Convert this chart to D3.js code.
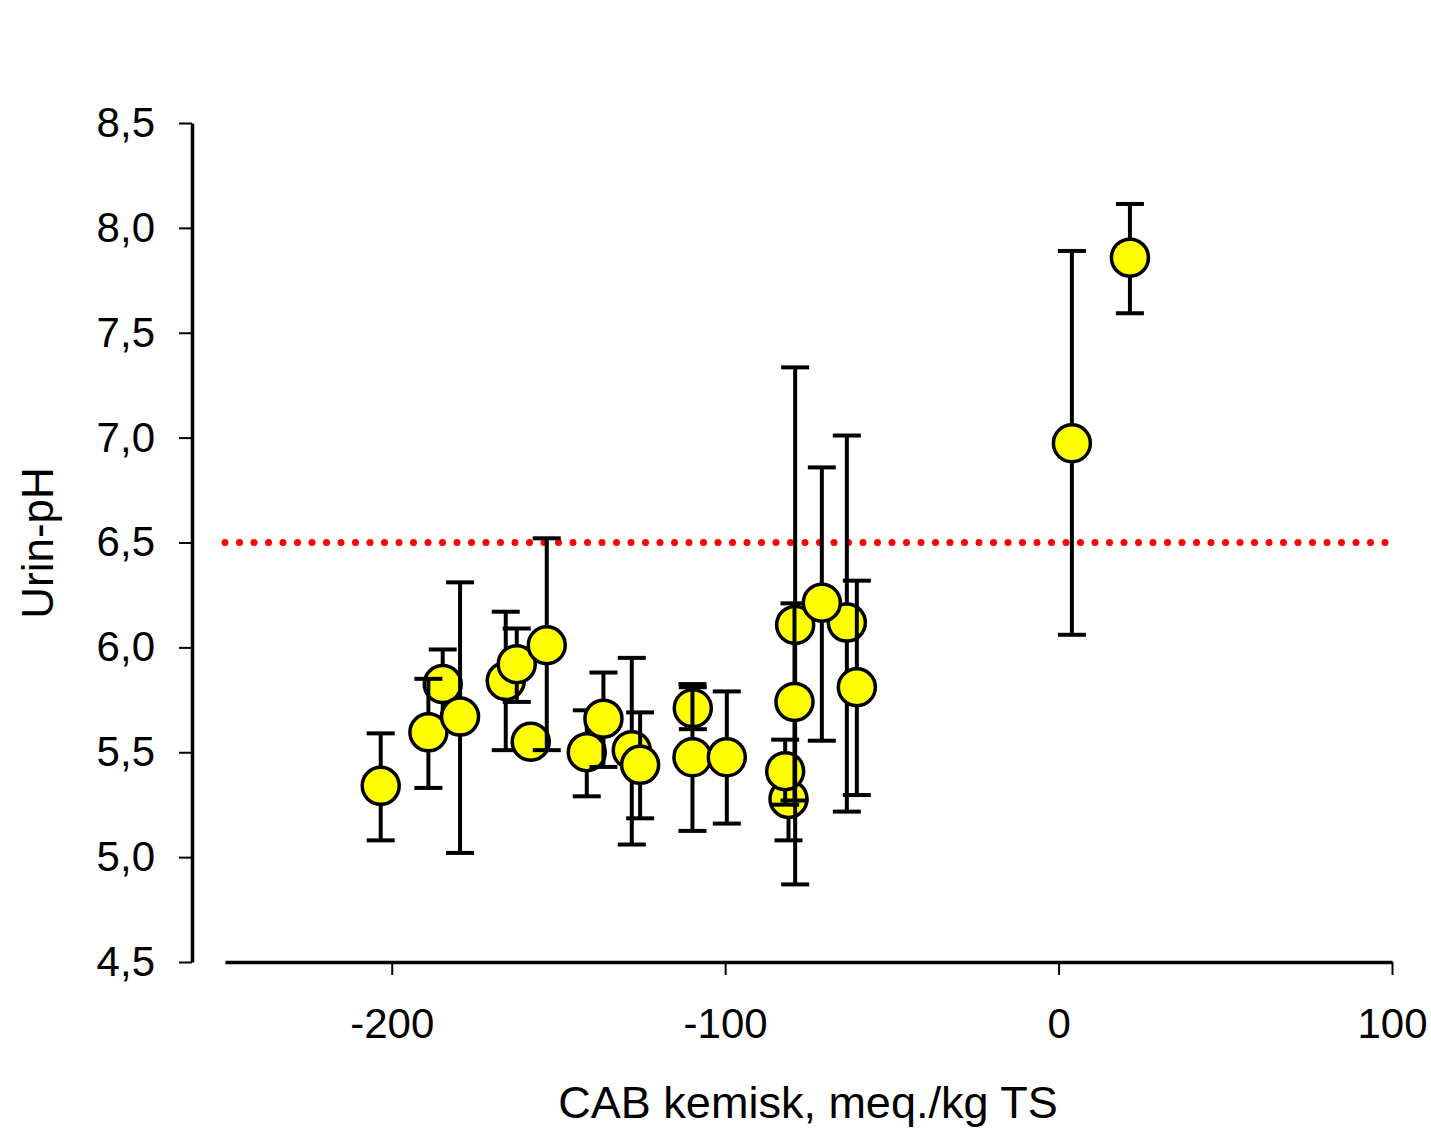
<!DOCTYPE html>
<html>
<head>
<meta charset="utf-8">
<script src="https://cdn.jsdelivr.net/npm/d3@7"></script>
<style>
  body { margin: 0; background: #fff; }
  svg text { font-family: "Liberation Sans", Arial, sans-serif; fill: #000; }
</style>
</head>
<body>
<div class="chart"></div>
<script>
// CAB (meq./kg TS) and urine pH with error bars, order = drawing order
const cab   = [-203.3, -184.7, -189.0, -179.5, -165.8, -162.5, -158.3, -153.5, -141.5, -136.5, -128.0, -125.5, -109.7, -109.8, -99.5, -81.0, -82.0, -79.0, -79.2, -63.5, -60.5, -71.0, 4.0, 21.4];
const ph    = [5.34, 5.825, 5.595, 5.67, 5.84, 5.92, 5.55, 6.01, 5.50, 5.66, 5.51, 5.44, 5.71, 5.476, 5.476, 5.277, 5.41, 6.107, 5.74, 6.118, 5.81, 6.213, 6.973, 7.858];
const phHi  = [5.59, 5.99, 5.85, 6.31, 6.17, 6.09, 5.60, 6.52, 5.70, 5.88, 5.95, 5.69, 5.81, 5.825, 5.79, 5.315, 5.56, 7.335, 6.21, 7.01, 6.318, 6.858, 7.89, 8.114];
const phLo  = [5.08, 5.65, 5.33, 5.02, 5.51, 5.74, 5.50, 5.51, 5.29, 5.43, 5.06, 5.185, 5.61, 5.125, 5.16, 5.08, 5.25, 4.87, 5.27, 5.217, 5.296, 5.555, 6.06, 7.593];

const xTicks = [-200, -100, 0, 100];
const yTicks = [4.5, 5.0, 5.5, 6.0, 6.5, 7.0, 7.5, 8.0, 8.5];
const refPH = 6.5;

const data = cab.map((c, i) => ({cab: c, ph: ph[i], hi: phHi[i], lo: phLo[i]}));

const width = 1431, height = 1129;

const svg = d3.select('.chart').append('svg')
    .attr('width', width)
    .attr('height', height);

const x = d3.scaleLinear()
    .domain([-250, 100])
    .range([225, 1392]);

const y = d3.scaleLinear()
    .domain([4.5, 8.5])
    .range([962, 123]);

const comma = v => d3.format('.1f')(v).replace('.', ',');

// y axis, set off to the left of the x range
const yAxis = svg.append('g')
    .attr('class', 'axis y-axis')
    .attr('transform', 'translate(192,0)')
    .call(d3.axisLeft(y).tickValues(yTicks).tickFormat(comma).tickSize(13).tickSizeOuter(0));

yAxis.select('.domain').attr('stroke-width', 3.5);
yAxis.selectAll('.tick line').attr('stroke-width', 2);
yAxis.selectAll('.tick text')
    .attr('x', -37)
    .attr('font-size', '42px');

const xAxis = svg.append('g')
    .attr('class', 'axis x-axis')
    .attr('transform', 'translate(0,962)')
    .call(d3.axisBottom(x).tickValues(xTicks).tickFormat(v => String(v)).tickSize(13).tickSizeOuter(0));

xAxis.select('.domain').attr('stroke-width', 3.5);
xAxis.selectAll('.tick line').attr('stroke-width', 2);
xAxis.selectAll('.tick text')
    .attr('y', 76)
    .attr('dy', null)
    .attr('font-size', '42px');

// red dotted reference line
svg.append('line')
    .attr('x1', x(-250))
    .attr('x2', x(100))
    .attr('y1', y(refPH))
    .attr('y2', y(refPH))
    .attr('stroke', '#ff0000')
    .attr('stroke-width', 7)
    .attr('stroke-linecap', 'round')
    .attr('stroke-dasharray', '0,14.5');

// each point: error bar first, then its symbol
const pts = svg.selectAll('.pt')
    .data(data)
    .enter()
    .append('g')
    .attr('class', 'pt');

pts.append('line')
    .attr('x1', d => x(d.cab))
    .attr('x2', d => x(d.cab))
    .attr('y1', d => y(d.hi))
    .attr('y2', d => y(d.lo))
    .attr('stroke', 'black')
    .attr('stroke-width', 4);

pts.append('line')
    .attr('x1', d => x(d.cab) - 14)
    .attr('x2', d => x(d.cab) + 14)
    .attr('y1', d => y(d.hi))
    .attr('y2', d => y(d.hi))
    .attr('stroke', 'black')
    .attr('stroke-width', 4);

pts.append('line')
    .attr('x1', d => x(d.cab) - 14)
    .attr('x2', d => x(d.cab) + 14)
    .attr('y1', d => y(d.lo))
    .attr('y2', d => y(d.lo))
    .attr('stroke', 'black')
    .attr('stroke-width', 4);

pts.append('circle')
    .attr('cx', d => x(d.cab))
    .attr('cy', d => y(d.ph))
    .attr('r', 18.5)
    .attr('fill', '#ffff00')
    .attr('stroke', 'black')
    .attr('stroke-width', 3.5);

// axis titles
svg.append('text')
    .attr('x', 808)
    .attr('y', 1118)
    .attr('text-anchor', 'middle')
    .attr('font-size', '45px')
    .text('CAB kemisk, meq./kg TS');

svg.append('text')
    .attr('transform', 'translate(53,543) rotate(-90)')
    .attr('text-anchor', 'middle')
    .attr('font-size', '44px')
    .text('Urin-pH');
</script>
</body>
</html>
